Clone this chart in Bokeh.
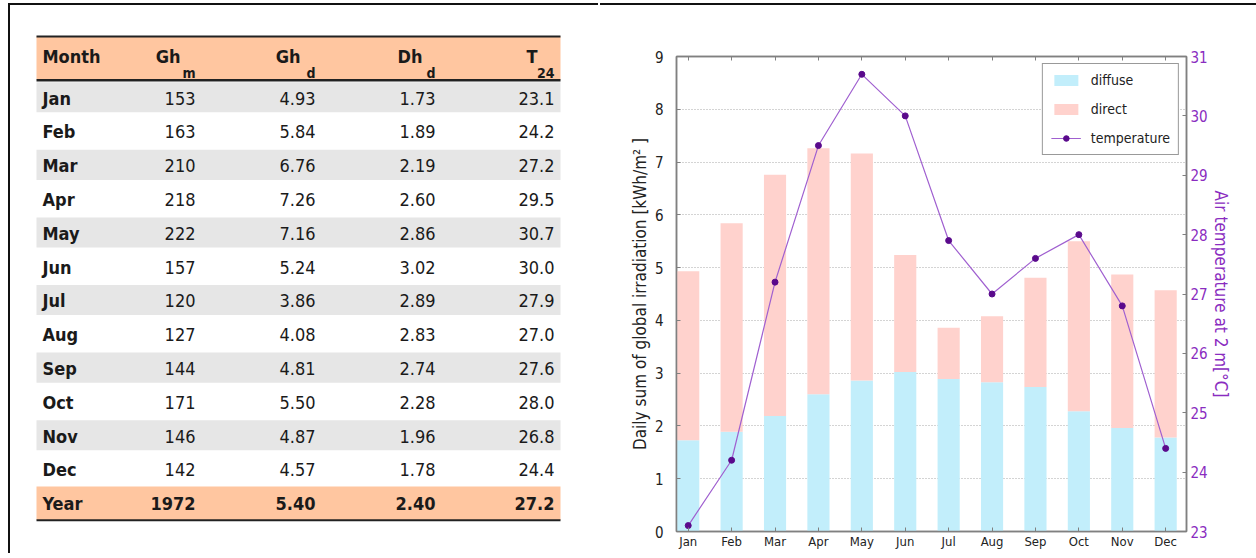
from bokeh.plotting import figure
from bokeh.models import (Range1d, LinearAxis, FixedTicker, Legend, LegendItem,
                          ColumnDataSource)
from bokeh.embed import file_html
from bokeh.resources import INLINE
from bokeh.core.properties import value

# ---------------- data ----------------
months = ["Jan", "Feb", "Mar", "Apr", "May", "Jun",
          "Jul", "Aug", "Sep", "Oct", "Nov", "Dec"]
gh_m = [153, 163, 210, 218, 222, 157, 120, 127, 144, 171, 146, 142]
gh_d = [4.93, 5.84, 6.76, 7.26, 7.16, 5.24, 3.86, 4.08, 4.81, 5.50, 4.87, 4.57]
dh_d = [1.73, 1.89, 2.19, 2.60, 2.86, 3.02, 2.89, 2.83, 2.74, 2.28, 1.96, 1.78]
t24 = [23.1, 24.2, 27.2, 29.5, 30.7, 30.0, 27.9, 27.0, 27.6, 28.0, 26.8, 24.4]
year_label = "Year"
year_gh_m = 1972
year_gh_d = 5.40
year_dh_d = 2.40
year_t24 = 27.2
header_main = ["Month", "Gh", "Gh", "Dh", "T"]
header_sub = ["", "m", "d", "d", "24"]
irr_ticks = [0, 1, 2, 3, 4, 5, 6, 7, 8, 9]
temp_ticks = [23, 24, 25, 26, 27, 28, 29, 30, 31]
series_names = ["diffuse", "direct", "temperature"]
y_label = "Daily sum of global irradiation [kWh/m\u00b2 ]"
y2_label = "Air temperature at 2 m[\u00b0C]"

# ---------------- style ----------------
TF = "DejaVu Sans Condensed"
CF = "DejaVu Sans Condensed"
PEACH = "#ffc6a0"
GRAY_BAND = "#e6e6e6"
TXT = "#1a1a1a"
C_DIFF = "#c2eefb"
C_DIR = "#ffd2cd"
C_LINE = "#a060d0"
C_MARK = "#5a0a8c"
C_PURP = "#8a2cc0"
FRAME = "#808080"
BORDER = "2px solid #111111"

# ---------------- table figure ----------------
tab = figure(width=590, height=550, x_range=Range1d(0, 590),
             y_range=Range1d(14.553, -1.719), output_backend="svg",
             toolbar_location=None, min_border=0,
             x_axis_location=None, y_axis_location=None,
             styles={"position": "absolute", "left": "8px", "top": "3px",
                     "border-top": BORDER, "border-left": BORDER})
tab.grid.visible = False
tab.outline_line_color = None
tab.background_fill_color = "white"

L, R = 26, 550
n = len(months)
rows_k = list(range(1, n + 1))
odd_k = [k for k in rows_k if k % 2 == 1]

tab.quad(left=L, right=R, top=-0.80, bottom=0.47, fill_color=PEACH, line_color=None)
tab.quad(left=L, right=R, top=[k - 0.45 for k in odd_k],
         bottom=[k + 0.44 for k in odd_k], fill_color=GRAY_BAND, line_color=None)
tab.quad(left=L, right=R, top=n + 1 - 0.49, bottom=n + 1 + 0.50,
         fill_color=PEACH, line_color=None)
tab.segment(x0=L, x1=R, y0=-0.80, y1=-0.80, line_color="#222222", line_width=2)
tab.segment(x0=L, x1=R, y0=0.49, y1=0.49, line_color="#222222", line_width=2.5)
tab.segment(x0=L, x1=R, y0=n + 1.51, y1=n + 1.51, line_color="#222222", line_width=2)

col_right = [185, 305, 425, 544]
head_right = [170, 290, 412, 527]
FS = "18px"

# header
tab.text(x=[32], y=[-0.20], text=[header_main[0]], text_font=value(TF),
         text_font_size=FS, text_font_style="bold", text_color=TXT,
         text_align="left", text_baseline="alphabetic")
tab.text(x=head_right, y=[-0.20] * 4, text=header_main[1:], text_font=value(TF),
         text_font_size=FS, text_font_style="bold", text_color=TXT,
         text_align="right", text_baseline="alphabetic")
tab.text(x=col_right, y=[0.28] * 4, text=header_sub[1:], text_font=value(TF),
         text_font_size="14px", text_font_style="bold", text_color=TXT,
         text_align="right", text_baseline="alphabetic")

# body
base = [k + 0.02 for k in rows_k]
tab.text(x=[32] * n, y=base, text=months, text_font=value(TF), text_font_size=FS,
         text_font_style="bold", text_color=TXT, text_align="left",
         text_baseline="alphabetic")
cols = [[f"{v:d}" for v in gh_m], [f"{v:.2f}" for v in gh_d],
        [f"{v:.2f}" for v in dh_d], [f"{v:.1f}" for v in t24]]
for xr, vals in zip(col_right, cols):
    tab.text(x=[xr] * n, y=base, text=vals, text_font=value(TF), text_font_size=FS,
             text_color=TXT, text_align="right", text_baseline="alphabetic")

yb = n + 1 + 0.02
tab.text(x=[32], y=[yb], text=[year_label], text_font=value(TF), text_font_size=FS,
         text_font_style="bold", text_color=TXT, text_align="left",
         text_baseline="alphabetic")
tab.text(x=col_right, y=[yb] * 4,
         text=[f"{year_gh_m:d}", f"{year_gh_d:.2f}", f"{year_dh_d:.2f}", f"{year_t24:.1f}"],
         text_font=value(TF), text_font_size=FS, text_font_style="bold",
         text_color=TXT, text_align="right", text_baseline="alphabetic")

# ---------------- chart figure ----------------
ch = figure(width=656, height=550, x_range=Range1d(-0.27, 11.48),
            y_range=Range1d(0, 9), output_backend="svg", toolbar_location=None,
            min_border_left=76, min_border_right=70, min_border_top=51,
            min_border_bottom=24,
            styles={"position": "absolute", "left": "600px", "top": "3px",
                    "border-top": BORDER})
ch.extra_y_ranges = {"temp": Range1d(23, 31)}
ch.outline_line_color = FRAME
ch.outline_line_width = 1.5
ch.xgrid.visible = False
ch.ygrid.grid_line_color = "#a8a8a8"
ch.ygrid.grid_line_dash = "1 2"
ch.ygrid.grid_line_width = 1

src = ColumnDataSource(dict(x=list(range(n)), diffuse=dh_d, total=gh_d, temp=t24))
r1 = ch.vbar(x="x", top="diffuse", bottom=0, width=0.51, fill_color=C_DIFF,
             line_color=None, source=src)
r2 = ch.vbar(x="x", top="total", bottom="diffuse", width=0.51, fill_color=C_DIR,
             line_color=None, source=src)
r3 = ch.line(x="x", y="temp", y_range_name="temp", line_color=C_LINE,
             line_width=1.2, source=src)
r4 = ch.scatter(x="x", y="temp", y_range_name="temp", size=6, fill_color=C_MARK,
                line_color=C_MARK, source=src)


def style_axis(ax, lbl_color):
    ax.axis_line_color = FRAME
    ax.axis_line_width = 1.5
    ax.major_tick_line_color = FRAME
    ax.major_tick_in = 4
    ax.major_tick_out = 0
    ax.minor_tick_line_color = None
    ax.major_label_text_font = CF
    ax.major_label_text_color = lbl_color
    ax.axis_label_text_font = CF
    ax.axis_label_text_font_style = "normal"


xa = ch.xaxis[0]
style_axis(xa, "#222222")
xa.ticker = FixedTicker(ticks=list(range(n)))
xa.major_label_overrides = {i: m for i, m in enumerate(months)}
xa.major_label_text_font_size = "13px"
xa.major_label_standoff = 2

ya = ch.yaxis[0]
style_axis(ya, "#222222")
ya.ticker = FixedTicker(ticks=irr_ticks)
ya.major_label_text_font_size = "15px"
ya.major_label_standoff = 13
ya.axis_label = y_label
ya.axis_label_text_font_size = "17px"
ya.axis_label_text_color = "#222222"
ya.axis_label_standoff = 2

ta = LinearAxis(ticker=FixedTicker(ticks=list(range(n))))
style_axis(ta, "#222222")
ta.major_label_overrides = {i: "" for i in range(n)}
ta.major_label_text_font_size = "1px"
ch.add_layout(ta, "above")

ra = LinearAxis(y_range_name="temp", ticker=FixedTicker(ticks=temp_ticks))
style_axis(ra, C_PURP)
ra.major_label_text_font_size = "15px"
ra.major_label_standoff = 4
ra.axis_label = y2_label
ra.axis_label_text_font_size = "17px"
ra.axis_label_text_color = C_PURP
ra.axis_label_standoff = 0
ch.add_layout(ra, "right")

legend = Legend(items=[LegendItem(label=series_names[0], renderers=[r1]),
                       LegendItem(label=series_names[1], renderers=[r2]),
                       LegendItem(label=series_names[2], renderers=[r3, r4])],
                location="top_right", margin=7, padding=8, spacing=13,
                glyph_width=30, glyph_height=14, label_height=14,
                label_standoff=10, label_text_font=CF,
                label_text_font_size="14px", label_text_color="#222222",
                border_line_color="#333333", border_line_width=1,
                background_fill_color="white", background_fill_alpha=1)
ch.add_layout(legend)

open("out.html", "w").write(file_html([tab, ch], INLINE))
